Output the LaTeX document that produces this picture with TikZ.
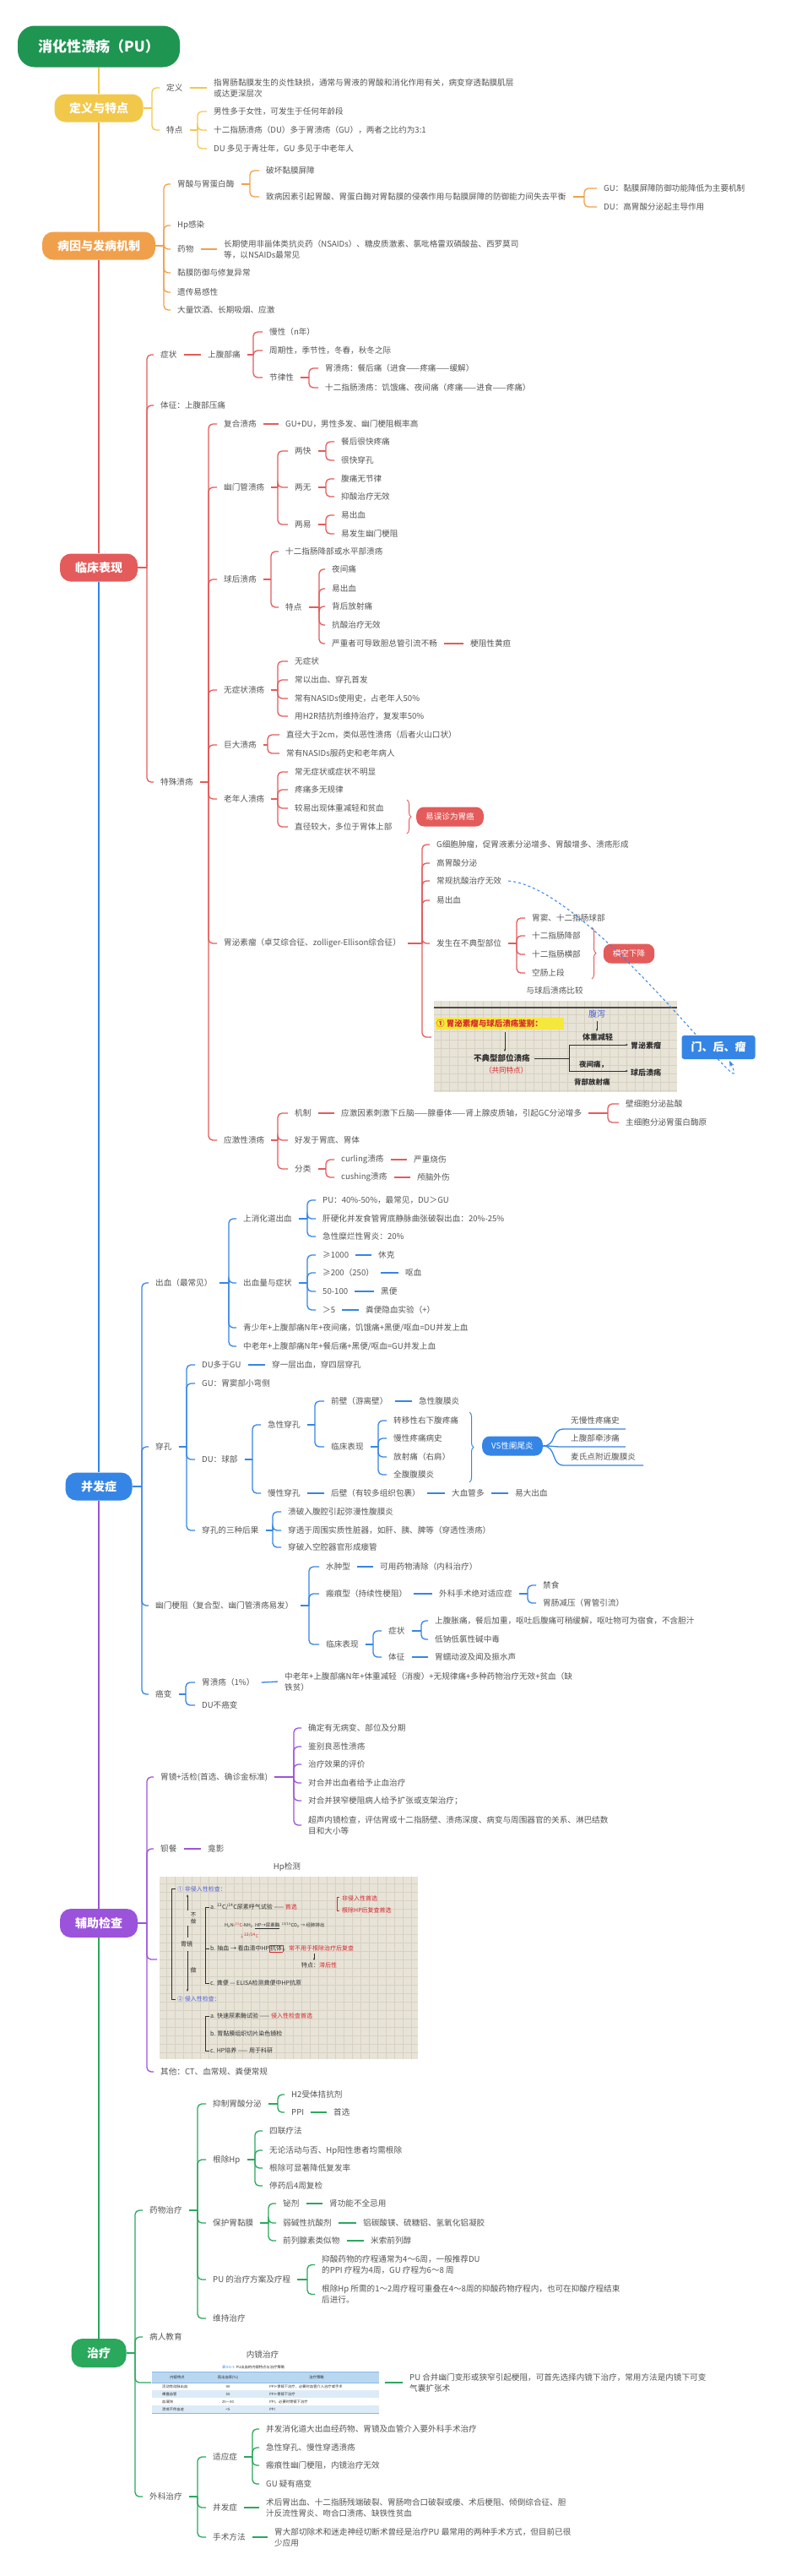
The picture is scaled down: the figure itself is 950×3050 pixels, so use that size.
\documentclass[tikz,border=0pt]{standalone}
\usepackage{fontspec}
\setmainfont{Noto Sans CJK SC}
\usetikzlibrary{decorations.pathreplacing,arrows.meta}
\definecolor{txt}{HTML}{555555}
\definecolor{cY}{HTML}{F2C84B}
\definecolor{cO}{HTML}{F0A04B}
\definecolor{cR}{HTML}{E45B5B}
\definecolor{cB}{HTML}{3585E6}
\definecolor{cP}{HTML}{9C53DC}
\definecolor{cG}{HTML}{2AA85C}
\definecolor{cT}{HTML}{1F9552}
\definecolor{paper}{HTML}{E7E3D7}
\definecolor{gridc}{HTML}{D6D1C2}
\definecolor{ink}{HTML}{2E2E2E}
\definecolor{inkR}{HTML}{D8262B}
\definecolor{inkB}{HTML}{4F62D8}
\definecolor{hl}{HTML}{F5E83C}
\definecolor{tblh}{HTML}{B9D7EF}
\definecolor{tbll}{HTML}{DCEBF7}
\newcommand\bodyfs{\fontsize{9.6}{13}\selectfont}
\newcommand\mtree[4]{%
  \coordinate (bk) at (#3,0);
  \draw[#1] (#2.east) -- (#2.east -| bk);
  \foreach \chn in {#4}{\draw[#1,rounded corners=5pt] (#2.east -| bk) |- (\chn.west);}%
}
\newcommand\mlink[3]{\draw[#1] (#2.east) -- (#3.west);}
\tikzset{
  t/.style={anchor=west, xshift=-8pt, inner xsep=8pt, inner ysep=1pt, font=\bodyfs, text=txt, align=left},
  topic/.style={fill=#1, text=white, font=\fontsize{14}{16}\selectfont\bfseries, rounded corners=13pt, minimum height=33pt, inner xsep=10pt},
  tag/.style={fill=#1, text=white, font=\fontsize{9.6}{11}\selectfont, rounded corners=9pt, minimum height=23pt, inner xsep=11pt},
  lY/.style={cY, line width=1.3pt},
  lO/.style={cO, line width=1.3pt},
  lR/.style={cR, line width=1.3pt},
  lB/.style={cB, line width=1.3pt},
  lP/.style={cP, line width=1.3pt},
  lG/.style={cG, line width=1.3pt},
  spine/.style={line width=2pt},
  hw/.style={anchor=west, inner sep=0pt, font=\fontsize{7}{8}\selectfont, text=ink},
  tb/.style={anchor=west, inner sep=0pt, font=\fontsize{4.3}{5}\selectfont, text=ink},
  brc/.style={decorate, decoration={brace, amplitude=5pt}, line width=1pt},
}
\begin{document}
\begin{tikzpicture}[x=1pt,y=-1pt]
\fill[white] (0,0) rectangle (950,3050);
\useasboundingbox (0,0) rectangle (950,3050);

% ---------- main topics
\node[fill=cT, text=white, rounded corners=20pt, minimum width=192pt, minimum height=49pt, font=\fontsize{17}{20}\selectfont\bfseries] (title) at (117,55) {消化性溃疡（PU）};
\node[topic=cY, minimum width=105pt] (def) at (117,128) {定义与特点};
\node[topic=cO, minimum width=134pt] (cause) at (117,291) {病因与发病机制};
\node[topic=cR, minimum width=92pt] (clin) at (117,672) {临床表现};
\node[topic=cB, minimum width=79pt] (comp) at (117,1760) {并发症};
\node[topic=cP, minimum width=92pt, minimum height=34pt] (aux) at (117,2277) {辅助检查};
\node[topic=cG, minimum width=65pt, minimum height=34pt] (treat) at (117,2786) {治疗};
\draw[cY,spine] (title.south) -- (def.north);
\draw[cO,spine] (def.south) -- (cause.north);
\draw[cR,spine] (cause.south) -- (clin.north);
\draw[cB,spine] (clin.south) -- (comp.north);
\draw[cP,spine] (comp.south) -- (aux.north);
\draw[cG,spine] (aux.south) -- (treat.north);

% ---------- 定义与特点
\node[t] (d1) at (197,104) {定义};
\node[t] (d1a) at (253,104) {指胃肠黏膜发生的炎性缺损，通常与胃液的胃酸和消化作用有关，病变穿透黏膜肌层\\或达更深层次};
\node[t] (d2) at (197,154) {特点};
\node[t] (d2a) at (253,132) {男性多于女性，可发生于任何年龄段};
\node[t] (d2b) at (253,154) {十二指肠溃疡（DU）多于胃溃疡（GU），两者之比约为3:1};
\node[t] (d2c) at (253,176) {DU 多见于青壮年，GU 多见于中老年人};
\mtree{lY}{def}{180}{d1,d2}
\mlink{lY}{d1}{d1a}
\mtree{lY}{d2}{234}{d2a,d2b,d2c}

% ---------- 病因与发病机制
\node[t] (c1) at (210,218) {胃酸与胃蛋白酶};
\node[t] (c1a) at (315,202) {破坏黏膜屏障};
\node[t] (c1b) at (315,233) {致病因素引起胃酸、胃蛋白酶对胃黏膜的侵袭作用与黏膜屏障的防御能力间失去平衡};
\node[t] (c1b1) at (715,223) {GU：黏膜屏障防御功能降低为主要机制};
\node[t] (c1b2) at (715,245) {DU：高胃酸分泌起主导作用};
\node[t] (c2) at (210,267) {Hp感染};
\node[t] (c3) at (210,295) {药物};
\node[t] (c3a) at (265,295) {长期使用非甾体类抗炎药（NSAIDs）、糖皮质激素、氯吡格雷双磷酸盐、西罗莫司\\等，以NSAIDs最常见};
\node[t] (c4) at (210,323) {黏膜防御与修复异常};
\node[t] (c5) at (210,346) {遗传易感性};
\node[t] (c6) at (210,367) {大量饮酒、长期吸烟、应激};
\mtree{lO}{cause}{194}{c1,c2,c3,c4,c5,c6}
\mtree{lO}{c1}{296}{c1a,c1b}
\mtree{lO}{c1b}{692}{c1b1,c1b2}
\mlink{lO}{c3}{c3a}

% ---------- 临床表现
\node[t] (k1) at (190,420) {症状};
\node[t] (k1a) at (246,420) {上腹部痛};
\node[t] (k1a1) at (319,393) {慢性（n年）};
\node[t] (k1a2) at (319,415) {周期性，季节性，冬春，秋冬之际};
\node[t] (k1a3) at (319,447) {节律性};
\node[t] (k1a3a) at (385,436) {胃溃疡：餐后痛（进食——疼痛——缓解）};
\node[t] (k1a3b) at (385,459) {十二指肠溃疡：饥饿痛、夜间痛（疼痛——进食——疼痛）};
\node[t] (k2) at (190,480) {体征：上腹部压痛};
\node[t] (k3) at (190,926) {特殊溃疡};
\mtree{lR}{clin}{174}{k1,k2,k3}
\mlink{lR}{k1}{k1a}
\mtree{lR}{k1a}{300}{k1a1,k1a2,k1a3}
\mtree{lR}{k1a3}{366}{k1a3a,k1a3b}

\node[t] (s1) at (265,502) {复合溃疡};
\node[t] (s1a) at (338,502) {GU+DU，男性多发、幽门梗阻概率高};
\node[t] (s2) at (265,577) {幽门管溃疡};
\node[t] (s2a) at (349,534) {两快};
\node[t] (s2b) at (349,577) {两无};
\node[t] (s2c) at (349,621) {两易};
\node[t] (s2a1) at (404,523) {餐后很快疼痛};
\node[t] (s2a2) at (404,545) {很快穿孔};
\node[t] (s2b1) at (404,567) {腹痛无节律};
\node[t] (s2b2) at (404,588) {抑酸治疗无效};
\node[t] (s2c1) at (404,610) {易出血};
\node[t] (s2c2) at (404,632) {易发生幽门梗阻};
\node[t] (s3) at (265,686) {球后溃疡};
\node[t] (s3a) at (338,653) {十二指肠降部或水平部溃疡};
\node[t] (s3b) at (338,719) {特点};
\node[t] (s3b1) at (393,674) {夜间痛};
\node[t] (s3b2) at (393,697) {易出血};
\node[t] (s3b3) at (393,718) {背后放射痛};
\node[t] (s3b4) at (393,740) {抗酸治疗无效};
\node[t] (s3b5) at (393,762) {严重者可导致胆总管引流不畅};
\node[t] (s3b5a) at (557,762) {梗阻性黄疸};
\node[t] (s4) at (265,817) {无症状溃疡};
\node[t] (s4a) at (349,783) {无症状};
\node[t] (s4b) at (349,805) {常以出血、穿孔首发};
\node[t] (s4c) at (349,827) {常有NASIDs使用史，占老年人50\%};
\node[t] (s4d) at (349,848) {用H2R拮抗剂维持治疗，复发率50\%};
\node[t] (s5) at (265,882) {巨大溃疡};
\node[t] (s5a) at (339,870) {直径大于2cm，类似恶性溃疡（后者火山口状）};
\node[t] (s5b) at (339,892) {常有NASIDs服药史和老年病人};
\node[t] (s6) at (265,946) {老年人溃疡};
\node[t] (s6a) at (349,914) {常无症状或症状不明显};
\node[t] (s6b) at (349,935) {疼痛多无规律};
\node[t] (s6c) at (349,957) {较易出现体重减轻和贫血};
\node[t] (s6d) at (349,979) {直径较大，多位于胃体上部};
\draw[cR, brc] (482,947) -- (482,987);
\node[tag=cR] (s6t) at (533,967) {易误诊为胃癌};
\node[t] (s7) at (265,1117) {胃泌素瘤（卓艾综合征、zolliger-Ellison综合征）};
\node[t] (s7a) at (517,1000) {G细胞肿瘤，促胃液素分泌增多、胃酸增多、溃疡形成};
\node[t] (s7b) at (517,1022) {高胃酸分泌};
\node[t] (s7c) at (517,1043) {常规抗酸治疗无效};
\node[t] (s7d) at (517,1066) {易出血};
\node[t] (s7e) at (517,1117) {发生在不典型部位};
\coordinate (s7f) at (511,1228);
\node[t] (s7e1) at (630,1087) {胃窦、十二指肠球部};
\node[t] (s7e2) at (630,1108) {十二指肠降部};
\node[t] (s7e3) at (630,1130) {十二指肠横部};
\node[t] (s7e4) at (630,1152) {空肠上段};
\draw[cR, brc] (701,1098) -- (701,1159);
\node[tag=cR] (s7t) at (745,1129) {横空下降};
\node[t] (s8) at (265,1350) {应激性溃疡};
\node[t] (s8a) at (349,1318) {机制};
\node[t] (s8a1) at (404,1318) {应激因素刺激下丘脑——腺垂体——肾上腺皮质轴，引起GC分泌增多};
\node[t] (s8a1a) at (741,1307) {壁细胞分泌盐酸};
\node[t] (s8a1b) at (741,1329) {主细胞分泌胃蛋白酶原};
\node[t] (s8b) at (349,1350) {好发于胃底、胃体};
\node[t] (s8c) at (349,1384) {分类};
\node[t] (s8c1) at (404,1373) {curling溃疡};
\node[t] (s8c1a) at (490,1373) {严重烧伤};
\node[t] (s8c2) at (404,1394) {cushing溃疡};
\node[t] (s8c2a) at (494,1394) {颅脑外伤};

\mtree{lR}{k3}{247}{s1,s2,s3,s4,s5,s6,s7,s8}
\mlink{lR}{s1}{s1a}
\mtree{lR}{s2}{329}{s2a,s2b,s2c}
\mtree{lR}{s2a}{386}{s2a1,s2a2}
\mtree{lR}{s2b}{386}{s2b1,s2b2}
\mtree{lR}{s2c}{386}{s2c1,s2c2}
\mtree{lR}{s3}{321}{s3a,s3b}
\mtree{lR}{s3b}{378}{s3b1,s3b2,s3b3,s3b4,s3b5}
\mlink{lR}{s3b5}{s3b5a}
\mtree{lR}{s4}{329}{s4a,s4b,s4c,s4d}
\mtree{lR}{s5}{317}{s5a,s5b}
\mtree{lR}{s6}{329}{s6a,s6b,s6c,s6d}
\mtree{lR}{s7}{500}{s7a,s7b,s7c,s7d,s7e,s7f}
\mtree{lR}{s7e}{612}{s7e1,s7e2,s7e3,s7e4}
\mtree{lR}{s8}{329}{s8a,s8b,s8c}
\mlink{lR}{s8a}{s8a1}
\mtree{lR}{s8a1}{720}{s8a1a,s8a1b}
\mtree{lR}{s8c}{386}{s8c1,s8c2}
\mlink{lR}{s8c1}{s8c1a}
\mlink{lR}{s8c2}{s8c2a}

% image: 胃泌素瘤与球后溃疡鉴别
\node[font=\bodyfs, text=txt] (cmpL) at (657,1173) {与球后溃疡比较};
\fill[paper] (514,1185) rectangle (802,1293);
\foreach \yy in {1201,1211,...,1291} \draw[gridc, line width=0.3pt] (514,\yy) -- (802,\yy);
\foreach \xx in {522,532,...,800} \draw[gridc, line width=0.3pt] (\xx,1185) -- (\xx,1293);
\draw[gray!60!black, line width=1.2pt] (514,1193) -- (802,1193);
\fill[hl] (516,1205) rectangle (668,1219);
\node[hw, text=inkR, font=\fontsize{9.5}{10}\selectfont\bfseries] at (517,1212) {① 胃泌素瘤与球后溃疡鉴别：};
\node[hw, anchor=center, text=inkB, font=\fontsize{10}{11}\selectfont] at (707,1201) {腹泻};
\draw[ink, -{Stealth[length=3pt]}, line width=0.6pt] (707,1209) -- (707,1221);
\node[hw, anchor=center, font=\fontsize{9}{10}\selectfont\bfseries] at (708,1228) {体重减轻};
\draw[ink, line width=0.6pt] (633,1253) -- (674,1253) (674,1237) -- (674,1268);
\draw[ink, line width=0.6pt, -{Stealth[length=3pt]}] (674,1237) -- (744,1237);
\draw[ink, line width=0.6pt, -{Stealth[length=3pt]}] (674,1268) -- (744,1268);
\node[hw, font=\fontsize{9}{10}\selectfont\bfseries] at (747,1238) {胃泌素瘤};
\node[hw, font=\fontsize{9}{10}\selectfont\bfseries] at (747,1270) {球后溃疡};
\draw[ink, line width=0.6pt, -{Stealth[length=3pt]}] (598,1222) -- (598,1245);
\node[hw, font=\fontsize{9.5}{10}\selectfont\bfseries] at (561,1253) {不典型部位溃疡};
\node[hw, text=inkR, font=\fontsize{8.5}{9}\selectfont] at (574,1267) {（共同特点）};
\node[hw, font=\fontsize{8.5}{9}\selectfont\bfseries] at (686,1260) {夜间痛，};
\node[hw, font=\fontsize{8.5}{9}\selectfont\bfseries] at (680,1281) {背部放射痛};

% relationship
\draw[cB, line width=1pt, dashed, -{Stealth[length=7pt]}] (s7c.east) .. controls (700,1050) and (900,1330) .. (864,1256);
\node[fill=cB, text=white, font=\fontsize{13}{15}\selectfont\bfseries, rounded corners=3pt, minimum width=87pt, minimum height=28pt] (mhl) at (851,1240) {门、后、瘤};

% ---------- 并发症
\node[t] (b1) at (184,1519) {出血（最常见）};
\node[t] (b1a) at (288,1443) {上消化道出血};
\node[t] (b1a1) at (382,1421) {PU：40\%-50\%，最常见，DU＞GU};
\node[t] (b1a2) at (382,1443) {肝硬化并发食管胃底静脉曲张破裂出血：20\%-25\%};
\node[t] (b1a3) at (382,1464) {急性糜烂性胃炎：20\%};
\node[t] (b1b) at (288,1519) {出血量与症状};
\node[t] (b1b1) at (382,1486) {≥1000};
\node[t] (b1b1a) at (448,1486) {休克};
\node[t] (b1b2) at (382,1507) {≥200（250）};
\node[t] (b1b2a) at (480,1507) {呕血};
\node[t] (b1b3) at (382,1529) {50-100};
\node[t] (b1b3a) at (451,1529) {黑便};
\node[t] (b1b4) at (382,1551) {＞5};
\node[t] (b1b4a) at (433,1551) {粪便隐血实验（+）};
\node[t] (b1c) at (288,1572) {青少年+上腹部痛N年+夜间痛，饥饿痛+黑便/呕血=DU并发上血};
\node[t] (b1d) at (288,1594) {中老年+上腹部痛N年+餐后痛+黑便/呕血=GU并发上血};

\node[t] (b2) at (184,1713) {穿孔};
\node[t] (b2a) at (239,1616) {DU多于GU};
\node[t] (b2a1) at (322,1616) {穿一层出血，穿四层穿孔};
\node[t] (b2b) at (239,1638) {GU：胃窦部小弯侧};
\node[t] (b2c) at (239,1728) {DU：球部};
\node[t] (b2c1) at (317,1687) {急性穿孔};
\node[t] (b2c1a) at (392,1659) {前壁（游离壁）};
\node[t] (b2c1a1) at (496,1659) {急性腹膜炎};
\node[t] (b2c1b) at (392,1713) {临床表现};
\node[t] (b2c1b1) at (466,1682) {转移性右下腹疼痛};
\node[t] (b2c1b2) at (466,1703) {慢性疼痛病史};
\node[t] (b2c1b3) at (466,1725) {放射痛（右肩）};
\node[t] (b2c1b4) at (466,1746) {全腹腹膜炎};
\draw[cB, brc] (556,1672) -- (556,1755);
\node[tag=cB] (vs) at (607,1712) {VS性阑尾炎};
\node[t] (vs1) at (676,1682) {无慢性疼痛史};
\node[t] (vs2) at (676,1703) {上腹部牵涉痛};
\node[t] (vs3) at (676,1725) {麦氏点附近腹膜炎};
\draw[lB] (vs.east) .. controls (660,1712) and (652,1692) .. (668,1692) -- (741,1692);
\draw[lB] (vs.east) .. controls (660,1712) and (652,1713) .. (668,1713) -- (741,1713);
\draw[lB] (vs.east) .. controls (660,1712) and (652,1735) .. (668,1735) -- (762,1735);
\node[t] (b2c2) at (317,1768) {慢性穿孔};
\node[t] (b2c2a) at (392,1768) {后壁（有较多组织包裹）};
\node[t] (b2c2b) at (535,1768) {大血管多};
\node[t] (b2c2c) at (610,1768) {易大出血};
\node[t] (b2d) at (239,1812) {穿孔的三种后果};
\node[t] (b2d1) at (341,1790) {溃破入腹腔引起弥漫性腹膜炎};
\node[t] (b2d2) at (341,1812) {穿透于周围实质性脏器，如肝、胰、脾等（穿透性溃疡）};
\node[t] (b2d3) at (341,1832) {穿破入空腔器官形成瘘管};

\node[t] (b3) at (184,1901) {幽门梗阻（复合型、幽门管溃疡易发）};
\node[t] (b3a) at (386,1855) {水肿型};
\node[t] (b3a1) at (450,1855) {可用药物清除（内科治疗）};
\node[t] (b3b) at (386,1887) {瘢痕型（持续性梗阻）};
\node[t] (b3b1) at (520,1887) {外科手术绝对适应症};
\node[t] (b3b1a) at (643,1877) {禁食};
\node[t] (b3b1b) at (643,1898) {胃肠减压（胃管引流）};
\node[t] (b3c) at (386,1947) {临床表现};
\node[t] (b3c1) at (460,1931) {症状};
\node[t] (b3c1a) at (515,1919) {上腹胀痛，餐后加重，呕吐后腹痛可稍缓解，呕吐物可为宿食，不含胆汁};
\node[t] (b3c1b) at (515,1941) {低钠低氯性碱中毒};
\node[t] (b3c2) at (460,1962) {体征};
\node[t] (b3c2a) at (515,1962) {胃蠕动波及闻及振水声};

\node[t] (b4) at (184,2006) {癌变};
\node[t] (b4a) at (239,1992) {胃溃疡（1\%）};
\node[t] (b4a1) at (337,1991) {中老年+上腹部痛N年+体重减轻（消瘦）+无规律痛+多种药物治疗无效+贫血（缺\\铁贫）};
\node[t] (b4b) at (239,2019) {DU不癌变};

\mtree{lB}{comp}{168}{b1,b2,b3,b4}
\mtree{lB}{b1}{271}{b1a,b1b,b1c,b1d}
\mtree{lB}{b1a}{364}{b1a1,b1a2,b1a3}
\mtree{lB}{b1b}{364}{b1b1,b1b2,b1b3,b1b4}
\mlink{lB}{b1b1}{b1b1a}
\mlink{lB}{b1b2}{b1b2a}
\mlink{lB}{b1b3}{b1b3a}
\mlink{lB}{b1b4}{b1b4a}
\mtree{lB}{b2}{221}{b2a,b2b,b2c,b2d}
\mlink{lB}{b2a}{b2a1}
\mtree{lB}{b2c}{299}{b2c1,b2c2}
\mtree{lB}{b2c1}{373}{b2c1a,b2c1b}
\mlink{lB}{b2c1a}{b2c1a1}
\mtree{lB}{b2c1b}{448}{b2c1b1,b2c1b2,b2c1b3,b2c1b4}
\mlink{lB}{b2c2}{b2c2a}
\mlink{lB}{b2c2a}{b2c2b}
\mlink{lB}{b2c2b}{b2c2c}
\mtree{lB}{b2d}{323}{b2d1,b2d2,b2d3}
\mtree{lB}{b3}{366}{b3a,b3b,b3c}
\mlink{lB}{b3a}{b3a1}
\mlink{lB}{b3b}{b3b1}
\mtree{lB}{b3b1}{625}{b3b1a,b3b1b}
\mtree{lB}{b3c}{442}{b3c1,b3c2}
\mtree{lB}{b3c1}{499}{b3c1a,b3c1b}
\mlink{lB}{b3c2}{b3c2a}
\mtree{lB}{b4}{220}{b4a,b4b}
\mlink{lB}{b4a}{b4a1}

% ---------- 辅助检查
\node[t] (a1) at (190,2104) {胃镜+活检(首选、确诊金标准)};
\node[t] (a1a) at (365,2046) {确定有无病变、部位及分期};
\node[t] (a1b) at (365,2068) {鉴别良恶性溃疡};
\node[t] (a1c) at (365,2089) {治疗效果的评价};
\node[t] (a1d) at (365,2111) {对合并出血者给予止血治疗};
\node[t] (a1e) at (365,2132) {对合并狭窄梗阻病人给予扩张或支架治疗；};
\node[t] (a1f) at (365,2161) {超声内镜检查，评估胃或十二指肠壁、溃疡深度、病变与周围器官的关系、淋巴结数\\目和大小等};
\node[t] (a2) at (190,2189) {钡餐};
\node[t] (a2a) at (246,2189) {龛影};
\node[font=\bodyfs, text=txt] (hpl) at (340,2211) {Hp检测};
\coordinate (a3) at (186,2320);
\node[t] (a4) at (190,2453) {其他：CT、血常规、粪便常规};
\mtree{lP}{aux}{174}{a1,a2,a3,a4}
\mtree{lP}{a1}{348}{a1a,a1b,a1c,a1d,a1e,a1f}
\mlink{lP}{a2}{a2a}

% Hp image
\fill[paper] (189,2222) rectangle (495,2438);
\foreach \yy in {2230,2240,...,2430} \draw[gridc, line width=0.3pt] (189,\yy) -- (495,\yy);
\foreach \xx in {197,207,...,487} \draw[gridc, line width=0.3pt] (\xx,2222) -- (\xx,2438);
\node[hw, text=inkB] at (210,2237) {① 非侵入性检查：};
\draw[ink, line width=0.6pt] (208,2236) -- (203,2236) -- (203,2367) -- (208,2367);
\draw[ink, line width=0.6pt, -{Stealth[length=3pt]}] (222,2262) -- (222,2243);
\draw[ink, line width=0.6pt] (222,2280) -- (222,2294);
\draw[ink, line width=0.6pt, -{Stealth[length=3pt]}] (222,2310) -- (222,2358);
\node[hw, anchor=center, align=center, font=\fontsize{6.5}{8}\selectfont] at (229,2271) {不\\做};
\node[hw, anchor=center] at (221,2302) {胃镜};
\node[hw, anchor=center] at (229,2333) {做};
\draw[ink, line width=0.6pt] (248,2258) -- (243,2258) -- (243,2348) -- (248,2348);
\draw[ink, line width=0.6pt] (243,2307) -- (248,2307);
\node[hw] at (249,2258) {a. \textsuperscript{13}C/\textsuperscript{14}C尿素呼气试验 —— \textcolor{inkR}{首选}};
\draw[inkR, line width=0.6pt] (402,2246) -- (399,2246) -- (399,2262) -- (402,2262);
\node[hw, text=inkR] at (405,2248) {非侵入性首选};
\node[hw, text=inkR] at (405,2262) {根除HP后复查首选};
\node[hw, font=\fontsize{5.5}{6}\selectfont] at (266,2280) {H\textsubscript{2}N-\textcolor{inkR}{\textsuperscript{13}C}-NH\textsubscript{2}\ \ \underline{HP→尿素酶}\ \ \textsuperscript{13/14}CO\textsubscript{2} → 经肺排出};
\node[hw, text=inkR, font=\fontsize{5}{6}\selectfont] at (284,2292) {↓\textsuperscript{13/14}C};
\node[hw] at (249,2307) {b. 抽血 → 看血清中HP{\setlength\fboxsep{0.6pt}\fcolorbox{inkR}{paper}{抗体}}，\textcolor{inkR}{常不用于根除治疗后复查}};
\node[hw] at (357,2327) {特点：\textcolor{inkR}{滞后性}};
\draw[ink, line width=0.5pt, -{Stealth[length=2.5pt]}] (372,2313) -- (372,2321);
\node[hw] at (249,2348) {c. 粪便 — ELISA检测粪便中HP抗原};
\node[hw, text=inkB] at (210,2367) {② 侵入性检查：};
\draw[ink, line width=0.6pt] (248,2387) -- (243,2387) -- (243,2428) -- (248,2428);
\node[hw] at (249,2387) {a. 快速尿素酶试验 —— \textcolor{inkR}{侵入性检查首选}};
\node[hw] at (249,2408) {b. 胃黏膜组织切片染色镜检};
\node[hw] at (249,2428) {c. HP培养 —— 用于科研};

% ---------- 治疗
\node[t] (g1) at (177,2617) {药物治疗};
\node[t] (g2) at (177,2767) {病人教育};
\coordinate (g3) at (179,2821);
\node[t] (g4) at (177,2956) {外科治疗};
\node[t] (g1a) at (252,2491) {抑制胃酸分泌};
\node[t] (g1a1) at (345,2480) {H2受体拮抗剂};
\node[t] (g1a2) at (345,2501) {PPI};
\node[t] (g1a2a) at (395,2501) {首选};
\node[t] (g1b) at (252,2557) {根除Hp};
\node[t] (g1b1) at (319,2523) {四联疗法};
\node[t] (g1b2) at (319,2546) {无论活动与否、Hp阳性患者均需根除};
\node[t] (g1b3) at (319,2567) {根除可显著降低复发率};
\node[t] (g1b4) at (319,2588) {停药后4周复检};
\node[t] (g1c) at (252,2632) {保护胃黏膜};
\node[t] (g1c1) at (335,2609) {铋剂};
\node[t] (g1c1a) at (390,2609) {肾功能不全忌用};
\node[t] (g1c2) at (335,2632) {弱碱性抗酸剂};
\node[t] (g1c2a) at (430,2632) {铝碳酸镁、硫糖铝、氢氧化铝凝胶};
\node[t] (g1c3) at (335,2653) {前列腺素类似物};
\node[t] (g1c3a) at (439,2653) {米索前列醇};
\node[t] (g1d) at (252,2699) {PU 的治疗方案及疗程};
\node[t] (g1d1) at (381,2681.5) {抑酸药物的疗程通常为4～6周，一般推荐DU\\的PPI 疗程为4周，GU 疗程为6～8 周};
\node[t] (g1d2) at (381,2716.5) {根除Hp 所需的1～2周疗程可重叠在4～8周的抑酸药物疗程内，也可在抑酸疗程结束\\后进行。};
\node[t] (g1e) at (252,2745) {维持治疗};

% endoscopy table
\node[font=\bodyfs, text=txt] (endo) at (311,2788) {内镜治疗};
\node[tb] at (263,2803) {\textcolor{cB}{表4-6-3}\ \ PU出血的内镜特点与治疗策略};
\fill[white] (180,2808) rectangle (449,2857);
\fill[tblh] (180,2808) rectangle (449,2821);
\fill[tbll] (180,2830) rectangle (449,2839);
\fill[tbll] (180,2848) rectangle (449,2857);
\draw[cB!60, line width=0.5pt] (180,2808) -- (449,2808) (180,2821) -- (449,2821) (180,2857) -- (449,2857);
\node[tb, anchor=center] at (210,2815) {内镜特点};
\node[tb, anchor=center] at (270,2815) {再出血率(\%)};
\node[tb, anchor=center] at (375,2815) {治疗策略};
\node[tb] at (192,2826) {活动性动脉出血};
\node[tb, anchor=center] at (270,2826) {90};
\node[tb] at (319,2826) {PPI+胃镜下治疗，必要时血管介入治疗或手术};
\node[tb] at (192,2835) {裸露血管};
\node[tb, anchor=center] at (270,2835) {50};
\node[tb] at (319,2835) {PPI+胃镜下治疗};
\node[tb] at (192,2844) {血凝块};
\node[tb, anchor=center] at (270,2844) {25～30};
\node[tb] at (319,2844) {PPI，必要时胃镜下治疗};
\node[tb] at (192,2853) {溃疡不伴血迹};
\node[tb, anchor=center] at (270,2853) {<5};
\node[tb] at (319,2853) {PPI};
\coordinate (g3e) at (456,2821);
\node[t] (g3t) at (485,2821) {PU 合并幽门变形或狭窄引起梗阻，可首先选择内镜下治疗，常用方法是内镜下可变\\气囊扩张术};
\draw[lG] (g3e) -- (g3t.west);

\node[t] (g4a) at (252,2909) {适应症};
\node[t] (g4a1) at (315,2876) {并发消化道大出血经药物、胃镜及血管介入要外科手术治疗};
\node[t] (g4a2) at (315,2898) {急性穿孔、慢性穿透溃疡};
\node[t] (g4a3) at (315,2919) {瘢痕性幽门梗阻，内镜治疗无效};
\node[t] (g4a4) at (315,2941) {GU 疑有癌变};
\node[t] (g4b) at (252,2969) {并发症};
\node[t] (g4b1) at (315,2969) {术后胃出血、十二指肠残端破裂、胃肠吻合口破裂或瘘、术后梗阻、倾倒综合征、胆\\汁反流性胃炎、吻合口溃疡、缺铁性贫血};
\node[t] (g4c) at (252,3004) {手术方法};
\node[t] (g4c1) at (325,3004) {胃大部切除术和迷走神经切断术曾经是治疗PU 最常用的两种手术方式，但目前已很\\少应用};

\mtree{lG}{treat}{160}{g1,g2,g3,g4}
\mtree{lG}{g1}{234}{g1a,g1b,g1c,g1d,g1e}
\mtree{lG}{g1a}{329}{g1a1,g1a2}
\mlink{lG}{g1a2}{g1a2a}
\mtree{lG}{g1b}{302}{g1b1,g1b2,g1b3,g1b4}
\mtree{lG}{g1c}{318}{g1c1,g1c2,g1c3}
\mlink{lG}{g1c1}{g1c1a}
\mlink{lG}{g1c2}{g1c2a}
\mlink{lG}{g1c3}{g1c3a}
\mtree{lG}{g1d}{364}{g1d1,g1d2}
\mtree{lG}{g4}{234}{g4a,g4b,g4c}
\mtree{lG}{g4a}{299}{g4a1,g4a2,g4a3,g4a4}
\mlink{lG}{g4b}{g4b1}
\mlink{lG}{g4c}{g4c1}
\end{tikzpicture}
\end{document}
